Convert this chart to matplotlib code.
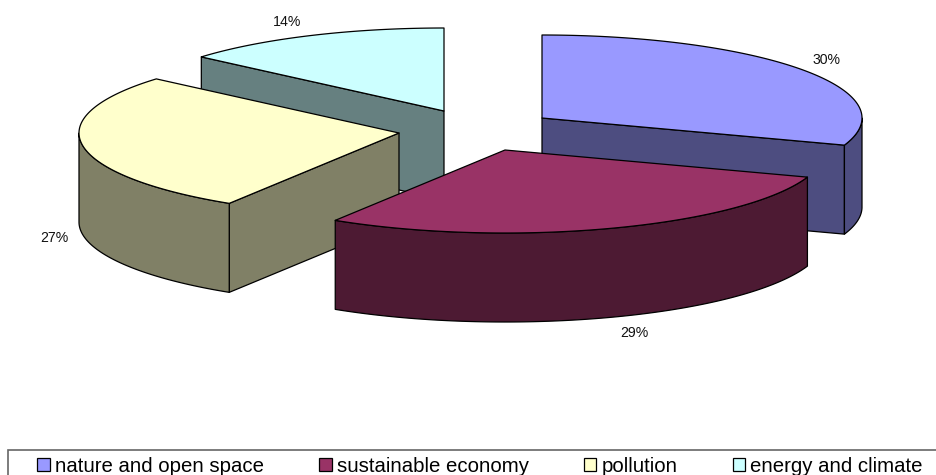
import numpy as np
import matplotlib
matplotlib.use('Agg')
import matplotlib.pyplot as plt
from matplotlib.patches import Patch, Rectangle

plt.rcParams['font.family'] = ['Liberation Sans', 'DejaVu Sans']

# Data
categories = ['nature and open space', 'sustainable economy', 'pollution', 'energy and climate']
shares = [30.3, 28.6, 27.4, 13.7]
top_colors = ['#9999FF', '#993366', '#FFFFCC', '#CCFFFF']
side_colors = ['#4D4D80', '#4D1A33', '#808066', '#668080']

# Layout, in pixels of the 937x475 picture
apexes = [(542, 118), (505, 150), (399, 133), (444, 111)]
label_pos = [(827, 60), (634, 333), (54, 238), (287, 22)]
rx, ry, depth = 320, 83, 89
draw_order = [3, 0, 2, 1]

fig = plt.figure(figsize=(9.37, 4.75), dpi=100)
ax = fig.add_axes([0, 0, 1, 1])
ax.set_xlim(0, 937)
ax.set_ylim(475, 0)
ax.axis('off')


def rim(apex, angles):
    # angles are clockwise from 12 o'clock, top face ellipse
    return apex[0] + rx * np.sin(angles), apex[1] - ry * np.cos(angles)


def draw_slice(i, start, end):
    apex = apexes[i]
    edge = dict(edgecolor='black', linewidth=0.9, joinstyle='round')

    # Cut faces, only the ones turned towards the viewer
    visible_cuts = []
    if np.sin(start) < -1e-9:
        visible_cuts.append(start)
    if np.sin(end) > 1e-9:
        visible_cuts.append(end)
    for t in visible_cuts:
        x, y = rim(apex, np.array([t]))
        ax.fill([apex[0], x[0], x[0], apex[0]],
                [apex[1], y[0], y[0] + depth, apex[1] + depth],
                facecolor=side_colors[i], **edge)

    # Outer wall, only the part facing the viewer
    lo, hi = max(start, np.pi / 2), min(end, 3 * np.pi / 2)
    if hi > lo:
        t = np.linspace(lo, hi, 120)
        x, y = rim(apex, t)
        ax.fill(np.r_[x, x[::-1]], np.r_[y, y[::-1] + depth],
                facecolor=side_colors[i], **edge)

    # Top face
    t = np.linspace(start, end, 200)
    x, y = rim(apex, t)
    ax.fill(np.r_[apex[0], x], np.r_[apex[1], y], facecolor=top_colors[i], **edge)


bounds = np.r_[0, np.cumsum(shares)] / sum(shares) * 2 * np.pi
for i in draw_order:
    draw_slice(i, bounds[i], bounds[i + 1])

for share, (x, y) in zip(shares, label_pos):
    ax.text(x, y, f'{round(share)}%', fontsize=10.2, ha='center', va='center', color='#111111')

# Legend box runs off the right and bottom of the picture
ax.add_patch(Rectangle((8, 450), 960, 60, facecolor='white', edgecolor='#666666', linewidth=1.2))
handles = [Patch(facecolor=c, edgecolor='black', linewidth=0.9) for c in top_colors]
ax.legend(handles, categories, ncol=4, frameon=False, fontsize=14.7,
          loc='upper left', bbox_to_anchor=(37, 457), bbox_transform=ax.transData,
          borderpad=0, borderaxespad=0, handlelength=0.62, handleheight=0.62,
          handletextpad=0.25, columnspacing=2.7, labelspacing=0)

fig.savefig('out.png', dpi=100)
